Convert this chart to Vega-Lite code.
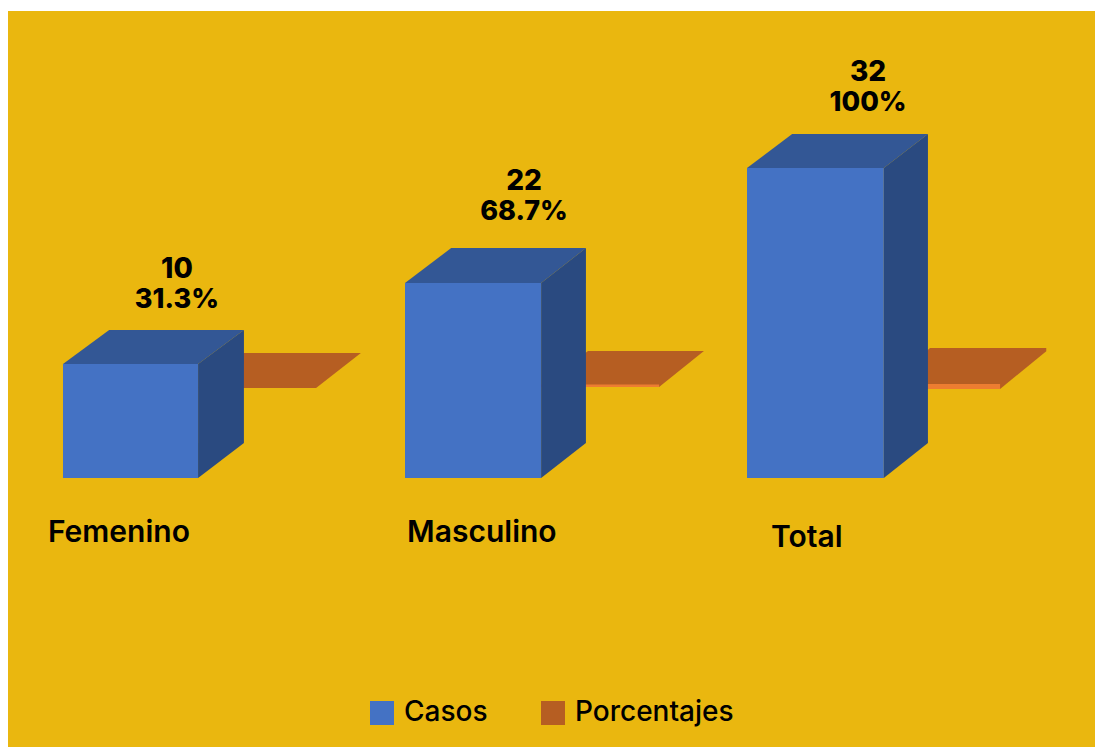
{
"$schema":"https://vega.github.io/schema/vega-lite/v6.json",
"width":1087,"height":736,
"padding":{"left":8,"top":11,"right":0,"bottom":0},
"background":"#ffffff",
"view":{"fill":"#EAB70F","stroke":null},
"config":{"font":"Inter"},
"datasets":{
"caras":[
{"categoria":"Femenino","cara":"Porcentajes","x":0.395,"y":7.89,"y2":7.89},
{"categoria":"Femenino","cara":"Porcentajes","x":0.529,"y":11.63,"y2":7.89},
{"categoria":"Femenino","cara":"Porcentajes","x":0.74,"y":11.63,"y2":7.89},
{"categoria":"Femenino","cara":"Porcentajes","x":0.871,"y":11.63,"y2":11.63},
{"categoria":"Masculino","cara":"Porcentajes","x":1.398,"y":7.98,"y2":7.98},
{"categoria":"Masculino","cara":"Porcentajes","x":1.535,"y":11.93,"y2":7.98},
{"categoria":"Masculino","cara":"Porcentajes","x":1.743,"y":11.93,"y2":7.98},
{"categoria":"Masculino","cara":"Porcentajes","x":1.874,"y":11.93,"y2":11.93},
{"categoria":"Total","cara":"Porcentajes","x":2.4,"y":7.81,"y2":7.81},
{"categoria":"Total","cara":"Porcentajes","x":2.535,"y":12.37,"y2":7.81},
{"categoria":"Total","cara":"Porcentajes","x":2.74,"y":12.37,"y2":7.81},
{"categoria":"Total","cara":"Porcentajes","x":2.875,"y":12.37,"y2":11.9},
{"categoria":"Masculino","cara":"Porcentajes frente","x":1.398,"y":8.2,"y2":7.98},
{"categoria":"Masculino","cara":"Porcentajes frente","x":1.743,"y":8.2,"y2":7.98},
{"categoria":"Total","cara":"Porcentajes frente","x":2.4,"y":8.25,"y2":7.81},
{"categoria":"Total","cara":"Porcentajes frente","x":2.74,"y":8.25,"y2":7.81},
{"categoria":"Femenino","cara":"Casos","x":0,"y":10,"y2":0},
{"categoria":"Femenino","cara":"Casos","x":0.395,"y":10,"y2":0},
{"categoria":"Masculino","cara":"Casos","x":1,"y":22,"y2":0},
{"categoria":"Masculino","cara":"Casos","x":1.398,"y":22,"y2":0},
{"categoria":"Total","cara":"Casos","x":2,"y":32,"y2":0},
{"categoria":"Total","cara":"Casos","x":2.4,"y":32,"y2":0},
{"categoria":"Femenino","cara":"Casos superior","x":0,"y":10,"y2":10},
{"categoria":"Femenino","cara":"Casos superior","x":0.135,"y":15.04,"y2":10},
{"categoria":"Femenino","cara":"Casos superior","x":0.395,"y":15.04,"y2":10},
{"categoria":"Femenino","cara":"Casos superior","x":0.529,"y":15.04,"y2":15.04},
{"categoria":"Masculino","cara":"Casos superior","x":1,"y":22,"y2":22},
{"categoria":"Masculino","cara":"Casos superior","x":1.135,"y":25.04,"y2":22},
{"categoria":"Masculino","cara":"Casos superior","x":1.398,"y":25.04,"y2":22},
{"categoria":"Masculino","cara":"Casos superior","x":1.529,"y":25.04,"y2":25.04},
{"categoria":"Total","cara":"Casos superior","x":2,"y":32,"y2":32},
{"categoria":"Total","cara":"Casos superior","x":2.132,"y":35.51,"y2":32},
{"categoria":"Total","cara":"Casos superior","x":2.4,"y":35.51,"y2":32},
{"categoria":"Total","cara":"Casos superior","x":2.529,"y":35.51,"y2":35.51},
{"categoria":"Femenino","cara":"Casos lateral","x":0.395,"y":10,"y2":0},
{"categoria":"Femenino","cara":"Casos lateral","x":0.529,"y":15.04,"y2":3.07},
{"categoria":"Masculino","cara":"Casos lateral","x":1.398,"y":22,"y2":0},
{"categoria":"Masculino","cara":"Casos lateral","x":1.529,"y":25.04,"y2":3.07},
{"categoria":"Total","cara":"Casos lateral","x":2.4,"y":32,"y2":0},
{"categoria":"Total","cara":"Casos lateral","x":2.529,"y":35.51,"y2":3.07}
],
"etiquetas":[
{"categoria":"Femenino","casos":10,"porcentaje":"31.3%","x":0.333,"yCasos":23.13,"yPct":19.48,"xCat":-0.044,"yCat":-5.68},
{"categoria":"Masculino","casos":22,"porcentaje":"68.7%","x":1.348,"yCasos":30.79,"yPct":28.18,"xCat":1.006,"yCat":-5.68},
{"categoria":"Total","casos":32,"porcentaje":"100%","x":2.354,"yCasos":41.8,"yPct":38.7,"xCat":2.07,"yCat":-6.2}
]
},
"resolve":{"scale":{"x":"shared","y":"shared","color":"shared"}},
"layer":[
{"data":{"name":"caras"},"transform":[{"filter":"datum.cara==='Porcentajes'"}],
 "mark":{"type":"area","orient":"vertical","interpolate":"linear"},
 "encoding":{
  "x":{"field":"x","type":"quantitative","axis":null,"scale":{"domain":[-0.1608,3.0175],"nice":false,"zero":false}},
  "y":{"field":"y","type":"quantitative","stack":null,"axis":null,"scale":{"domain":[-27.76,0,10,22,32,48.19],"range":[736,467,353,272,157,0],"nice":false,"zero":false}},
  "y2":{"field":"y2"},
  "detail":{"field":"categoria"},
  "color":{"field":"cara","type":"nominal",
   "scale":{"domain":["Casos","Porcentajes","Casos superior","Casos lateral","Porcentajes frente"],"range":["#4472C4","#B65E22","#335795","#2A4A80","#ED7D31"]},
   "legend":{"values":["Casos","Porcentajes"],"title":null,"orient":"none","legendX":360,"legendY":688,"direction":"horizontal","columns":2,"symbolType":"square","symbolSize":576,"symbolStrokeWidth":0,"symbolOpacity":1,"labelFont":"Inter","labelFontSize":28,"labelFontWeight":500,"labelColor":"#000000","labelOffset":8,"columnPadding":51,"labelLimit":300}}
 }},
{"data":{"name":"caras"},"transform":[{"filter":"datum.cara==='Porcentajes frente'"}],
 "mark":{"type":"area","orient":"vertical","interpolate":"linear"},
 "encoding":{"x":{"field":"x","type":"quantitative"},"y":{"field":"y","type":"quantitative","stack":null},"y2":{"field":"y2"},"detail":{"field":"categoria"},"color":{"field":"cara","type":"nominal"}}},
{"data":{"name":"caras"},"transform":[{"filter":"indexof(datum.cara,'Casos')===0"}],
 "mark":{"type":"area","orient":"vertical","interpolate":"linear"},
 "encoding":{"x":{"field":"x","type":"quantitative"},"y":{"field":"y","type":"quantitative","stack":null},"y2":{"field":"y2"},"detail":{"field":"categoria"},"color":{"field":"cara","type":"nominal"}}},
{"data":{"name":"etiquetas"},
 "mark":{"type":"text","font":"Inter","fontSize":28,"fontWeight":800,"align":"center","baseline":"middle","color":"#000000"},
 "encoding":{"x":{"field":"x","type":"quantitative"},"y":{"field":"yCasos","type":"quantitative"},"text":{"field":"casos","type":"quantitative"}}},
{"data":{"name":"etiquetas"},
 "mark":{"type":"text","font":"Inter","fontSize":27,"fontWeight":800,"align":"center","baseline":"middle","color":"#000000"},
 "encoding":{"x":{"field":"x","type":"quantitative"},"y":{"field":"yPct","type":"quantitative"},"text":{"field":"porcentaje","type":"nominal"}}},
{"data":{"name":"etiquetas"},
 "mark":{"type":"text","font":"Inter","fontSize":30,"fontWeight":600,"align":"left","baseline":"middle","color":"#000000"},
 "encoding":{"x":{"field":"xCat","type":"quantitative"},"y":{"field":"yCat","type":"quantitative"},"text":{"field":"categoria","type":"nominal"}}}
]
}
